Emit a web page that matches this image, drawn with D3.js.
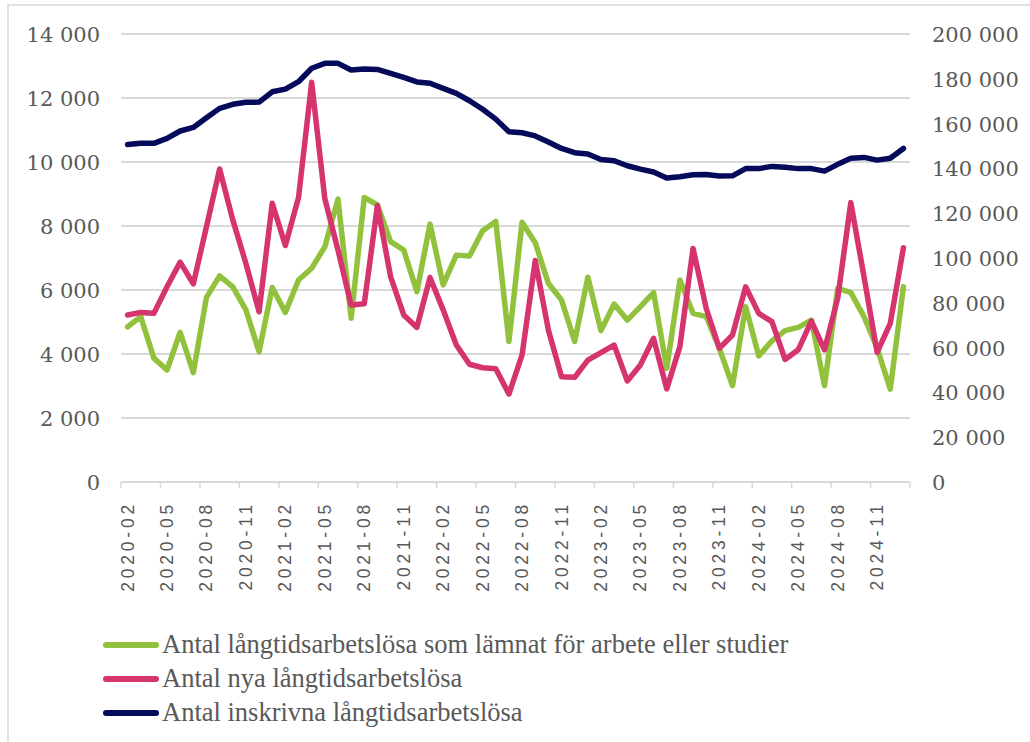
<!DOCTYPE html>
<html>
<head>
<meta charset="utf-8">
<script src="https://cdn.jsdelivr.net/npm/d3@7.9.0/dist/d3.min.js"></script>
<style>
  body { margin: 0; background: #fff; }
  svg { display: block; }
</style>
</head>
<body>
<svg id="chart" width="1030" height="742"></svg>
<script>
// categories (monthly)
const months = [
  '2020-02','2020-03','2020-04','2020-05','2020-06','2020-07','2020-08','2020-09','2020-10','2020-11','2020-12',
  '2021-01','2021-02','2021-03','2021-04','2021-05','2021-06','2021-07','2021-08','2021-09','2021-10','2021-11','2021-12',
  '2022-01','2022-02','2022-03','2022-04','2022-05','2022-06','2022-07','2022-08','2022-09','2022-10','2022-11','2022-12',
  '2023-01','2023-02','2023-03','2023-04','2023-05','2023-06','2023-07','2023-08','2023-09','2023-10','2023-11','2023-12',
  '2024-01','2024-02','2024-03','2024-04','2024-05','2024-06','2024-07','2024-08','2024-09','2024-10','2024-11','2024-12',
  '2025-01'
];

// left axis series
const lamnat = [
  4850,5170,3870,3500,4680,3420,5770,6440,6100,5380,
  4070,6080,5300,6310,6680,7350,8840,5120,8890,8660,
  7510,7250,5950,8060,6160,7090,7060,7850,8140,4390,
  8120,7480,6210,5690,4390,6400,4730,5560,5060,5480,
  5920,3550,6310,5270,5170,4180,3010,5480,3940,4410,
  4730,4830,5060,3010,6050,5920,5170,4180,2900,6100
];
const nya = [
  5220,5300,5270,6100,6870,6190,7980,9780,8190,6830,
  5320,8710,7390,8890,12490,8850,7250,5530,5570,8640,
  6420,5220,4830,6390,5380,4280,3680,3570,3540,2750,
  3970,6920,4750,3290,3270,3810,4040,4280,3160,3660,
  4490,2910,4230,7300,5430,4180,4590,6100,5270,5010,
  3830,4130,5030,4130,5740,8730,6420,4050,4960,7320
];
// right axis series
const inskrivna = [
  150700,151200,151200,153400,156700,158300,162600,166800,168600,169500,
  169600,174200,175400,178700,184700,186900,186900,183900,184400,184200,
  182400,180600,178600,178000,175700,173500,170200,166400,162000,156400,
  155900,154500,151800,148900,147000,146400,144000,143400,141200,139700,
  138400,135700,136300,137200,137300,136600,136700,139900,139900,140900,
  140500,139900,139900,138800,141800,144500,144900,143700,144500,148900
];

const leftTicks = [0,2000,4000,6000,8000,10000,12000,14000];
const rightTicks = [0,20000,40000,60000,80000,100000,120000,140000,160000,180000,200000];
const labelMonths = months.filter((d, i) => i % 3 === 0);

const seriesNames = [
  'Antal långtidsarbetslösa som lämnat för arbete eller studier',
  'Antal nya långtidsarbetslösa',
  'Antal inskrivna långtidsarbetslösa'
];
const seriesColors = ['#92c13d', '#d5346f', '#050a5a'];

const svg = d3.select('#chart');
const textColor = '#595959';
const gridColor = '#d9d9d9';
const serif = '"Liberation Serif", "DejaVu Serif", serif';
const numFont = '"DejaVu Serif", "Liberation Serif", serif';

const x = d3.scaleBand().domain(months).range([121, 910]);
const yL = d3.scaleLinear().domain([0, 14000]).range([482, 34]);
const yR = d3.scaleLinear().domain([0, 200000]).range([482, 34]);

// outer frame (cut at right / bottom)
svg.append('path')
   .attr('d', 'M8,742 L8,5 L1030,5')
   .attr('fill', 'none')
   .attr('stroke', gridColor)
   .attr('stroke-width', 1.5);

// gridlines
svg.append('g').selectAll('line')
   .data(leftTicks.slice(1))
   .join('line')
   .attr('x1', 121).attr('x2', 910)
   .attr('y1', d => yL(d)).attr('y2', d => yL(d))
   .attr('stroke', gridColor).attr('stroke-width', 1.8);

// x axis line + ticks at band boundaries
svg.append('line')
   .attr('x1', 121).attr('x2', 910)
   .attr('y1', yL(0)).attr('y2', yL(0))
   .attr('stroke', gridColor).attr('stroke-width', 1.8);

const tickPos = labelMonths.map(m => x(m)).concat([x.range()[1]]);
svg.append('g').selectAll('line')
   .data(tickPos)
   .join('line')
   .attr('x1', d => d).attr('x2', d => d)
   .attr('y1', yL(0)).attr('y2', yL(0) + 6)
   .attr('stroke', gridColor).attr('stroke-width', 1.5);

// x labels (rotated)
const xAxis = svg.append('g')
   .attr('transform', `translate(0,${yL(0)})`)
   .call(d3.axisBottom(x).tickValues(labelMonths).tickSize(0));
xAxis.select('.domain').remove();
xAxis.selectAll('text')
   .attr('font-family', '"Liberation Sans", Arial, sans-serif')
   .attr('font-size', 17.5)
   .attr('letter-spacing', '3.8px')
   .attr('fill', textColor)
   .attr('text-anchor', 'end')
   .attr('dy', null).attr('y', 0)
   .attr('transform', 'translate(6,19) rotate(-90)');

// left axis labels
svg.append('g').selectAll('text')
   .data(leftTicks)
   .join('text')
   .attr('x', 100).attr('y', d => yL(d) + 8)
   .attr('text-anchor', 'end')
   .attr('font-family', numFont).attr('font-size', 21)
   .attr('fill', textColor)
   .text(d => d3.format(',')(d).replace(/,/g, '\u00a0'));

// right axis labels
svg.append('g').selectAll('text')
   .data(rightTicks)
   .join('text')
   .attr('x', 932).attr('y', d => yR(d) + 8)
   .attr('text-anchor', 'start')
   .attr('font-family', numFont).attr('font-size', 21)
   .attr('fill', textColor)
   .text(d => d3.format(',')(d).replace(/,/g, '\u00a0'));

// lines
const cx = m => x(m) + x.bandwidth() / 2;
const lineL = d3.line().x((d, i) => cx(months[i])).y(d => yL(d));
const lineR = d3.line().x((d, i) => cx(months[i])).y(d => yR(d));

[[lamnat, lineL], [nya, lineL], [inskrivna, lineR]].forEach(([data, gen], idx) => {
  svg.append('path')
     .attr('d', gen(data))
     .attr('fill', 'none')
     .attr('stroke', seriesColors[idx])
     .attr('stroke-width', 5.5)
     .attr('stroke-linejoin', 'round')
     .attr('stroke-linecap', 'round');
});

// legend
const legend = svg.append('g');
seriesNames.forEach((name, idx) => {
  const ly = 645 + idx * 34;
  legend.append('line')
        .attr('x1', 106).attr('x2', 156)
        .attr('y1', ly).attr('y2', ly)
        .attr('stroke', seriesColors[idx])
        .attr('stroke-width', 6)
        .attr('stroke-linecap', 'round');
  legend.append('text')
        .attr('x', 162).attr('y', ly + 8)
        .attr('font-family', serif).attr('font-size', 26.5)
        .attr('fill', textColor)
        .text(name);
});
</script>
</body>
</html>
